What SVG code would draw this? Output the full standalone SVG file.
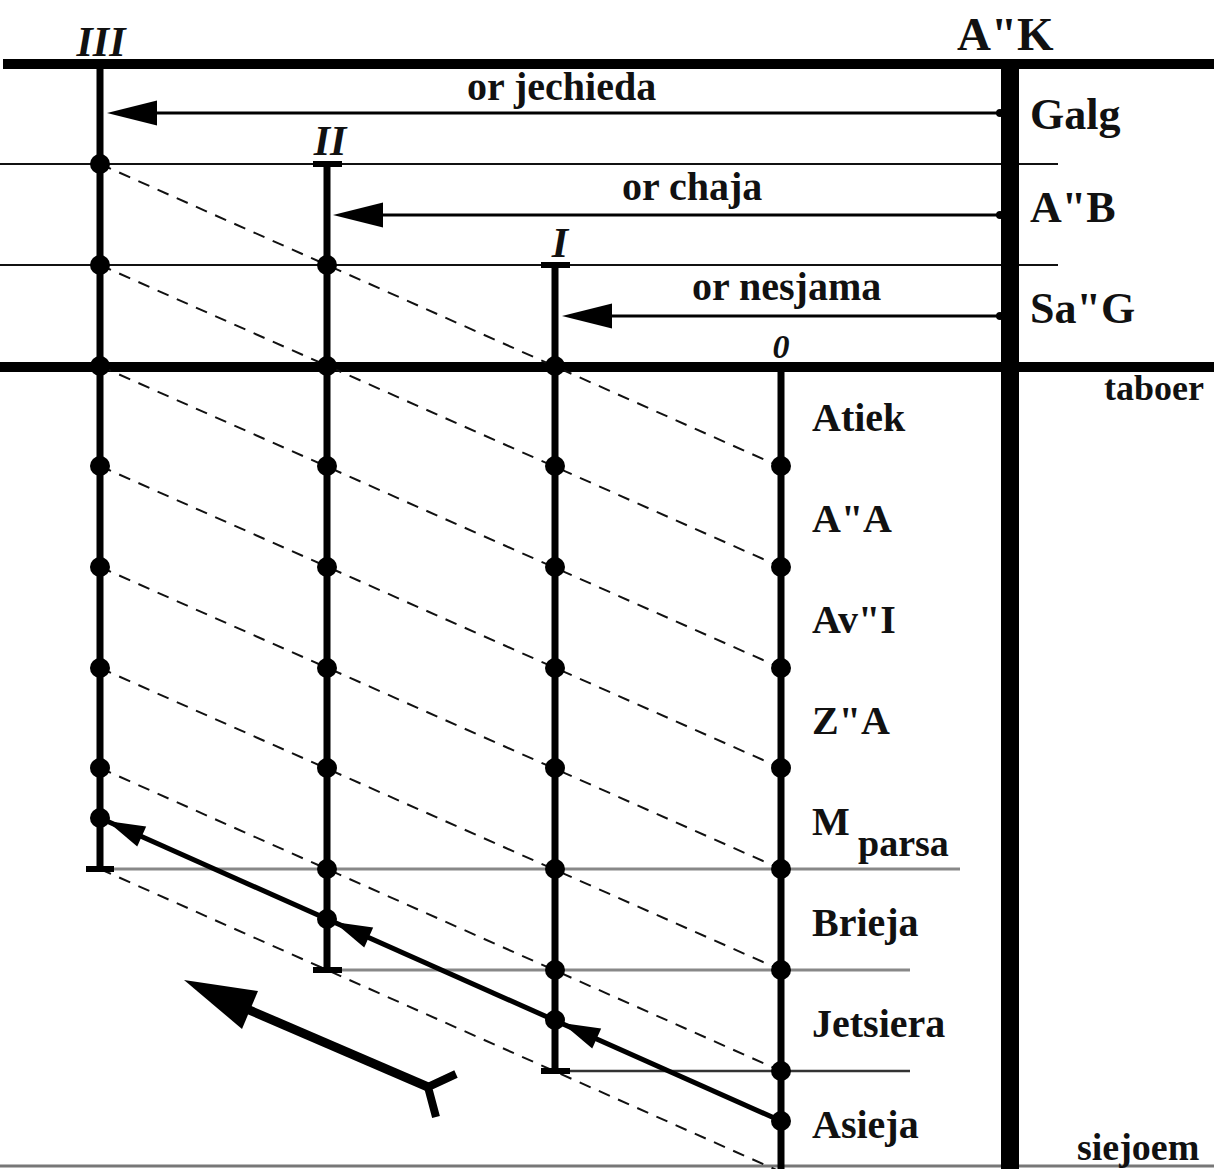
<svg xmlns="http://www.w3.org/2000/svg" xmlns:xlink="http://www.w3.org/1999/xlink" width="1214" height="1169" viewBox="0 0 1214 1169">
<style>
.t{font-family:"Liberation Serif","Times New Roman",serif;font-weight:bold;fill:#111}
.it{font-style:italic}
.thick{stroke:#000;stroke-width:10;fill:none}
.thin{stroke:#111;stroke-width:2;fill:none}
.gray{stroke:#888;stroke-width:3;fill:none}
.vert{stroke:#000;stroke-width:7;fill:none}
.tick{stroke:#000;stroke-width:6;fill:none}
.dash{stroke:#111;stroke-width:2;stroke-dasharray:12 9;fill:none}
.ray{stroke:#000;stroke-width:3;fill:none}
.dot{fill:#000}
</style>
<defs>
<path id="hh" d="M0,0 L50,-12.5 L50,12.5 Z" fill="#000"/>
<path id="ah" d="M0,0 L-38,-11 L-38,11 Z" fill="#000"/>
</defs>
<rect width="1214" height="1169" fill="#fff"/>

<g id="levels">
<line class="thick" x1="3" y1="64" x2="1214" y2="64"/>
<line class="thin" x1="0" y1="164" x2="1058" y2="164"/>
<line class="thin" x1="0" y1="265" x2="1058" y2="265"/>
<line class="thick" x1="0" y1="367" x2="1214" y2="367"/>
<line class="gray" x1="114" y1="869" x2="960" y2="869"/>
<line class="gray" x1="342" y1="970" x2="910" y2="970"/>
<line stroke="#333" stroke-width="2.5" x1="570" y1="1071" x2="910" y2="1071"/>
<line stroke="#777" stroke-width="3" x1="0" y1="1166" x2="1214" y2="1166"/>
</g>

<g id="connectors">
<g id="dashed">
<line class="dash" x1="100" y1="164" x2="781" y2="467"/>
<line class="dash" x1="100" y1="265" x2="781" y2="567"/>
<line class="dash" x1="100" y1="366" x2="781" y2="668"/>
<line class="dash" x1="100" y1="466" x2="781" y2="768"/>
<line class="dash" x1="100" y1="567" x2="781" y2="869"/>
<line class="dash" x1="100" y1="668" x2="781" y2="970"/>
<line class="dash" x1="100" y1="768" x2="781" y2="1071"/>
<line class="dash" x1="100" y1="869" x2="781" y2="1172"/>
</g>
</g>

<g id="AK">
<line stroke="#000" stroke-width="18" x1="1010" y1="64" x2="1010" y2="1169"/>
<text class="t" x="957" y="50" font-size="47">A"K</text>
<text class="t" x="1030" y="129" font-size="44">Galg</text>
<text class="t" x="1030" y="222" font-size="44">A"B</text>
<text class="t" x="1030" y="323" font-size="44">Sa"G</text>
<text class="t" x="1104" y="400" font-size="36">taboer</text>
<text class="t" x="1077" y="1160" font-size="38">siejoem</text>
</g>

<g id="stage-III">
<line class="vert" x1="100" y1="64" x2="100" y2="869"/>
<line class="tick" x1="86" y1="869" x2="114" y2="869"/>
<g class="dot">
<circle cx="100" cy="164" r="10"/><circle cx="100" cy="265" r="10"/><circle cx="100" cy="366" r="10"/>
<circle cx="100" cy="466" r="10"/><circle cx="100" cy="567" r="10"/><circle cx="100" cy="668" r="10"/>
<circle cx="100" cy="768" r="10"/><circle cx="100" cy="818" r="10"/>
</g>
<text class="t it" x="101" y="56" font-size="42" text-anchor="middle">III</text>
</g>

<g id="stage-II">
<line class="vert" x1="327" y1="164" x2="327" y2="970"/>
<line class="tick" x1="313" y1="164" x2="342" y2="164"/>
<line class="tick" x1="313" y1="970" x2="342" y2="970"/>
<g class="dot">
<circle cx="327" cy="265" r="10"/><circle cx="327" cy="366" r="10"/><circle cx="327" cy="466" r="10"/>
<circle cx="327" cy="567" r="10"/><circle cx="327" cy="668" r="10"/><circle cx="327" cy="768" r="10"/>
<circle cx="327" cy="869" r="10"/><circle cx="327" cy="919" r="10"/>
</g>
<text class="t it" x="330" y="155" font-size="42" text-anchor="middle">II</text>
</g>

<g id="stage-I">
<line class="vert" x1="555" y1="265" x2="555" y2="1071"/>
<line class="tick" x1="541" y1="265" x2="570" y2="265"/>
<line class="tick" x1="541" y1="1071" x2="570" y2="1071"/>
<g class="dot">
<circle cx="555" cy="366" r="10"/><circle cx="555" cy="466" r="10"/><circle cx="555" cy="567" r="10"/>
<circle cx="555" cy="668" r="10"/><circle cx="555" cy="768" r="10"/><circle cx="555" cy="869" r="10"/>
<circle cx="555" cy="970" r="10"/><circle cx="555" cy="1020" r="10"/>
</g>
<text class="t it" x="560" y="257" font-size="42" text-anchor="middle">I</text>
</g>

<g id="stage-0">
<line class="vert" x1="781" y1="366" x2="781" y2="1169"/>
<g class="dot">
<circle cx="781" cy="466" r="10"/><circle cx="781" cy="567" r="10"/><circle cx="781" cy="668" r="10"/>
<circle cx="781" cy="768" r="10"/><circle cx="781" cy="869" r="10"/><circle cx="781" cy="970" r="10"/>
<circle cx="781" cy="1071" r="10"/><circle cx="781" cy="1121" r="10"/>
</g>
<text class="t it" x="781" y="358" font-size="34" text-anchor="middle">0</text>
<text class="t" x="812" y="431" font-size="40">Atiek</text>
<text class="t" x="812" y="532" font-size="40">A"A</text>
<text class="t" x="812" y="633" font-size="40">Av"I</text>
<text class="t" x="812" y="734" font-size="40">Z"A</text>
<text class="t" x="812" y="835" font-size="40">M</text>
<text class="t" x="858" y="856" font-size="38">parsa</text>
<text class="t" x="812" y="936" font-size="40">Brieja</text>
<text class="t" x="812" y="1037" font-size="40">Jetsiera</text>
<text class="t" x="812" y="1138" font-size="40">Asieja</text>
</g>

<g id="lights">
<line class="ray" x1="1003" y1="113" x2="150" y2="113"/>
<use xlink:href="#hh" href="#hh" transform="translate(107,113)"/>
<circle cx="1000" cy="113" r="4"/>
<text class="t" x="467" y="100" font-size="40">or jechieda</text>

<line class="ray" x1="1003" y1="215" x2="375" y2="215"/>
<use xlink:href="#hh" href="#hh" transform="translate(333,215)"/>
<circle cx="1000" cy="215" r="4"/>
<text class="t" x="622" y="200" font-size="40">or chaja</text>

<line class="ray" x1="1003" y1="316" x2="605" y2="316"/>
<use xlink:href="#hh" href="#hh" transform="translate(562,316)"/>
<circle cx="1000" cy="316" r="4"/>
<text class="t" x="692" y="300" font-size="40">or nesjama</text>
</g>

<g id="ascent">
<line stroke="#000" stroke-width="5" x1="781" y1="1121" x2="100" y2="818"/>
<use xlink:href="#ah" href="#ah" transform="translate(107,821) rotate(204)"/>
<use xlink:href="#ah" href="#ah" transform="translate(334,922) rotate(204)"/>
<use xlink:href="#ah" href="#ah" transform="translate(562,1023) rotate(204)"/>
</g>

<g id="big-arrow">
<line stroke="#000" stroke-width="9" x1="240" y1="1006" x2="428" y2="1087"/>
<path d="M184,980 L258,991 L242,1029 Z" fill="#000"/>
<polyline points="456,1074 428,1087 436,1117" stroke="#000" stroke-width="8" fill="none"/>
</g>
</svg>
